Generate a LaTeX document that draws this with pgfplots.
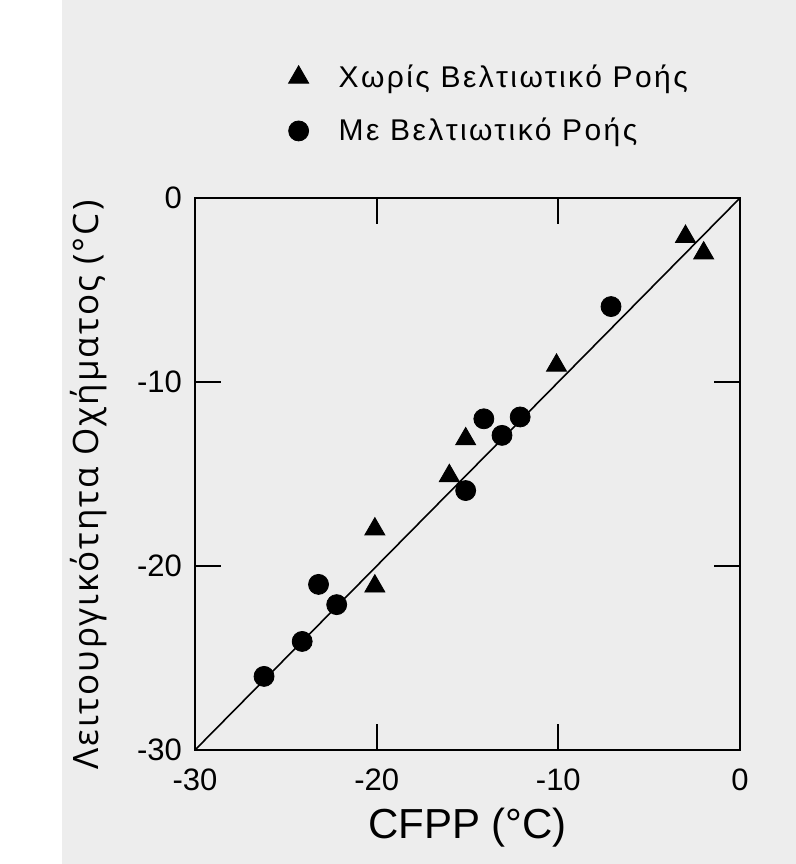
\documentclass[border=0pt]{standalone}
\usepackage{fontspec}
\setmainfont{Liberation Sans}
\newfontfamily\ylfont[LetterSpace=6]{Open Sans}
\newfontfamily\legfont[LetterSpace=8]{Liberation Sans}
\usepackage{pgfplots}
\pgfplotsset{compat=1.18}
\begin{document}
\begin{tikzpicture}
\fill[white] (0,0) rectangle (398pt,432pt);
\fill[black!7] (31pt,0) rectangle (398pt,432pt);
\begin{axis}[
  at={(97.5pt,57pt)}, anchor=south west,
  scale only axis, width=272.5pt, height=276pt,
  xmin=-30, xmax=0, ymin=-30, ymax=0,
  xtick={-30,-20,-10,0}, ytick={-30,-20,-10,0},
  tick align=inside, major tick length=13pt,
  axis line style={line width=0.9pt},
  tick style={line width=0.9pt, black},
  tick label style={font=\fontsize{15.5}{18}\selectfont},
  /pgf/number format/assume math mode=true,
  xticklabel style={yshift=-6pt},
  yticklabel style={xshift=-3pt},
  xlabel={CFPP (°C)},
  ylabel={\ylfont Λειτουργικότητα Οχήματος (°C)},
  xlabel style={font=\fontsize{21}{25}\selectfont, at={(axis description cs:0.5,-0.14)}, anchor=center},
  ylabel style={font=\fontsize{17.5}{21}\selectfont, at={(axis description cs:-0.196,0.48)}, anchor=center},
  legend style={draw=none, fill=none, at={(axis description cs:0.16,1.257)}, anchor=north west,
    font=\legfont\fontsize{15}{17}\selectfont, row sep=10pt, column sep=13pt},
  legend cell align=left,
  clip=false,
]
\addplot[black, line width=0.8pt, forget plot] coordinates {(-30,-30) (0,0)};
\addplot[only marks, mark=triangle*, mark size=5.8pt, black] coordinates {
  (-3.0,-2.1) (-2.0,-3.0) (-10.1,-9.1) (-15.1,-13.1) (-16.0,-15.1) (-20.1,-18.0) (-20.1,-21.1)
};
\addlegendentry{Χωρίς Βελτιωτικό Ροής}
\addplot[only marks, mark=*, mark size=5pt, black] coordinates {
  (-7.1,-5.9) (-14.1,-12.0) (-12.1,-11.9) (-13.1,-12.9) (-15.1,-15.9)
  (-23.2,-21.0) (-22.2,-22.1) (-24.1,-24.1) (-26.2,-26.0)
};
\addlegendentry{Με Βελτιωτικό Ροής}
\end{axis}
\end{tikzpicture}
\end{document}
